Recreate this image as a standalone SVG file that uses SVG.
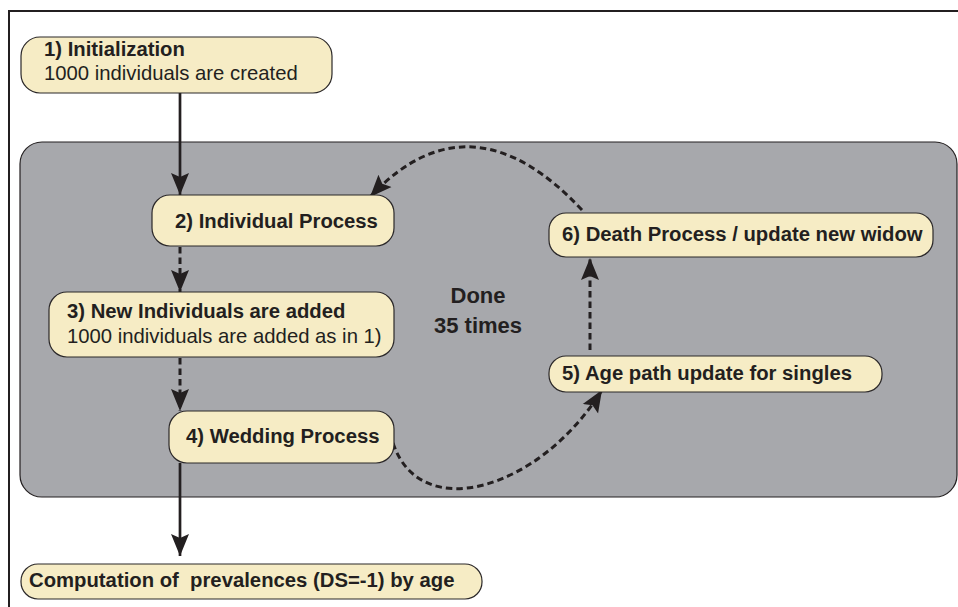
<svg xmlns="http://www.w3.org/2000/svg" width="958" height="607" viewBox="0 0 958 607">
<style>
.node{fill:#f6ecc5;stroke:#2b2829;stroke-width:1.2}
.t{font-family:"Liberation Sans",Arial,sans-serif;font-size:20.3px;fill:#231f20}
.b{font-weight:bold}
.solid{fill:none;stroke:#231f20;stroke-width:2.7}
.dash{fill:none;stroke:#231f20;stroke-width:3;stroke-dasharray:6.5 4}
</style>
<defs>
<marker id="ah" markerUnits="userSpaceOnUse" markerWidth="24" markerHeight="20" refX="22" refY="9" orient="auto" viewBox="0 0 24 18">
<path d="M0,0 L22,9 L0,18 L4,9 Z" fill="#231f20"/>
</marker>
</defs>
<rect x="0" y="0" width="958" height="607" fill="#ffffff"/>
<path d="M9,610 V11 H960" fill="none" stroke="#231f20" stroke-width="2"/>
<rect id="loop" x="20" y="142" width="937" height="355" rx="22" fill="#a7a8ac" stroke="#231f20" stroke-width="1.2"/>
<g id="connectors">
<path class="solid" d="M180,93 V195" marker-end="url(#ah)"/>
<path class="dash" d="M180,247 V292" marker-end="url(#ah)"/>
<path class="dash" d="M180,358 V411" marker-end="url(#ah)"/>
<path class="dash" d="M393,443 C420,525 540,490 602,390" marker-end="url(#ah)"/>
<path class="dash" d="M590,350 V258" marker-end="url(#ah)"/>
<path class="dash" d="M582,210 C512,135 440,122 370,197" marker-end="url(#ah)"/>
<path class="solid" d="M180,463 V556" marker-end="url(#ah)"/>
</g>
<g id="n1">
<rect class="node" x="21" y="37" width="311" height="56" rx="19"/>
<text class="t b" x="44" y="56">1) Initialization</text>
<text class="t" x="44" y="80">1000 individuals are created</text>
</g>
<g id="n2">
<rect class="node" x="152" y="195" width="242" height="51" rx="18"/>
<text class="t b" x="175" y="228">2) Individual Process</text>
</g>
<g id="n3">
<rect class="node" x="49" y="292" width="345" height="65" rx="18"/>
<text class="t b" x="67" y="318">3) New Individuals are added</text>
<text class="t" x="67" y="343">1000 individuals are added as in 1)</text>
</g>
<g id="n4">
<rect class="node" x="169" y="411" width="225" height="52" rx="18"/>
<text class="t b" x="186" y="443">4) Wedding Process</text>
</g>
<g id="n5">
<rect class="node" x="549" y="356" width="333" height="36" rx="17"/>
<text class="t b" x="562" y="380">5) Age path update for singles</text>
</g>
<g id="n6">
<rect class="node" x="549" y="213" width="384" height="44" rx="17"/>
<text class="t b" x="562" y="241">6) Death Process / update new widow</text>
</g>
<g id="label">
<text class="t b" x="478" y="303" text-anchor="middle" style="font-size:22px">Done</text>
<text class="t b" x="478" y="333" text-anchor="middle" style="font-size:22px">35 times</text>
</g>
<g id="n7">
<rect class="node" x="21" y="564" width="461" height="35" rx="17"/>
<text class="t b" x="29" y="587" xml:space="preserve">Computation of  prevalences (DS=-1) by age</text>
</g>
</svg>
